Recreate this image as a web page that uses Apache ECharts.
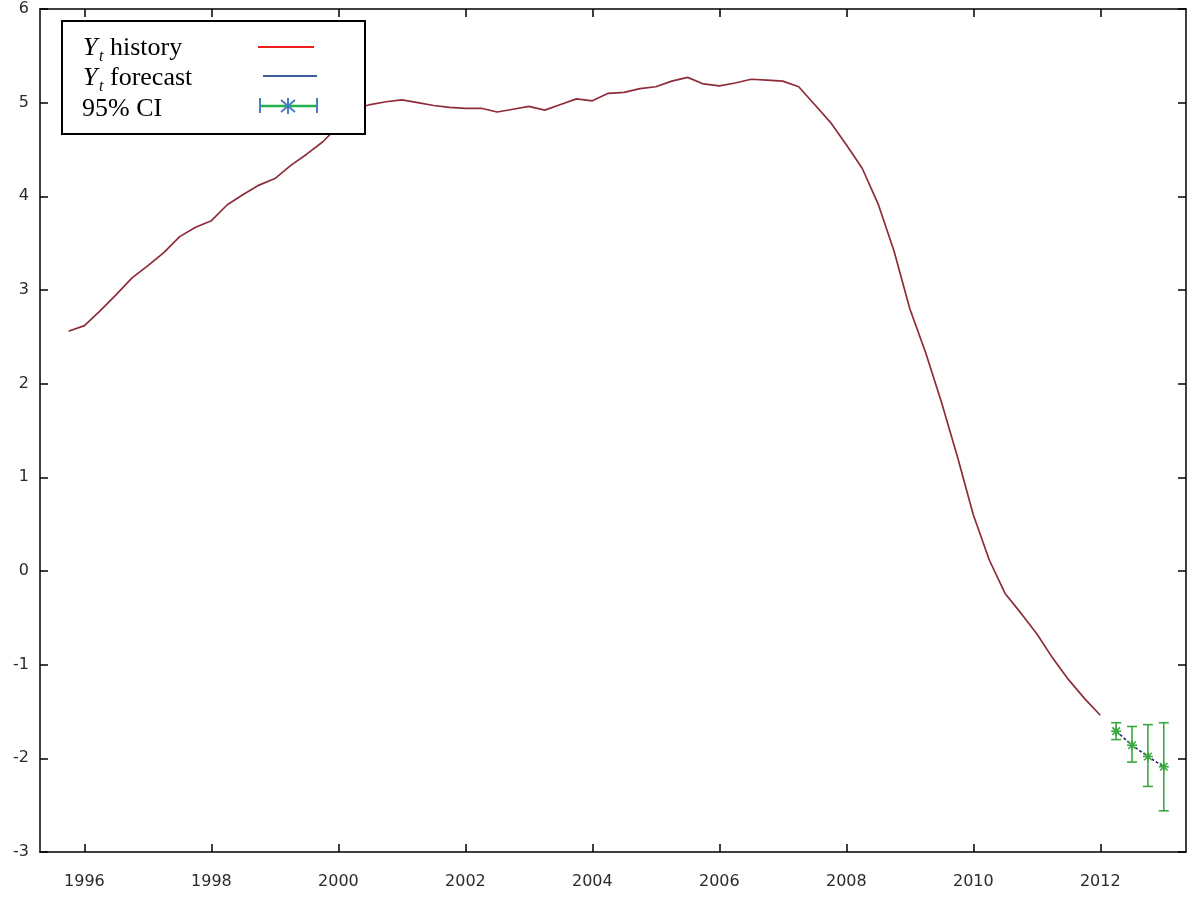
<!DOCTYPE html>
<html>
<head>
<meta charset="utf-8">
<script src="https://cdn.jsdelivr.net/npm/echarts@6/dist/echarts.min.js"></script>
<style>
  html, body { margin: 0; padding: 0; background: #ffffff; }
  #chart { width: 1188px; height: 897px; }
</style>
</head>
<body>
<div id="chart"></div>
<script>
// Y_t, quarterly, first observation 1995:4, last 2012:1
const historyStart = '1995:4';
const historyValues = [
  2.56,
  2.62, 2.78, 2.95, 3.13,
  3.26, 3.40, 3.57, 3.67,
  3.74, 3.91, 4.02, 4.12,
  4.19, 4.33, 4.45, 4.58,
  4.75, 4.93, 4.98, 5.01,
  5.03, 5.00, 4.97, 4.95,
  4.94, 4.94, 4.90, 4.93,
  4.96, 4.92, 4.98, 5.04,
  5.02, 5.10, 5.11, 5.15,
  5.17, 5.23, 5.27, 5.20,
  5.18, 5.21, 5.25, 5.24,
  5.23, 5.17, 4.98, 4.79,
  4.55, 4.30, 3.92, 3.42,
  2.80, 2.33, 1.80, 1.22,
  0.60, 0.12, -0.24, -0.45,
  -0.67, -0.93, -1.16, -1.36,
  -1.54
];

// Out-of-sample forecast with 95% interval
const forecastPeriods = ['2012:2', '2012:3', '2012:4', '2013:1'];
const forecastValues  = [-1.71, -1.86, -1.98, -2.09];
const ciLower         = [-1.80, -2.04, -2.30, -2.56];
const ciUpper         = [-1.62, -1.66, -1.64, -1.62];

// Axis ticks
const yearTicks = [1996, 1998, 2000, 2002, 2004, 2006, 2008, 2010, 2012];

// 'YYYY:Q' -> decimal year (YYYY + (Q-1)/4)
function periodToYear(p) {
  const parts = p.split(':').map(Number);
  return parts[0] + (parts[1] - 1) / 4;
}

const startParts = historyStart.split(':').map(Number);
const historyData = historyValues.map((v, i) => {
  const q0 = startParts[1] - 1 + i;
  const year = startParts[0] + Math.floor(q0 / 4);
  const q = (q0 % 4) + 1;
  return [periodToYear(year + ':' + q), v];
});
const forecastData = forecastPeriods.map((p, i) => [periodToYear(p), forecastValues[i]]);
const ciData = forecastPeriods.map((p, i) => [periodToYear(p), ciLower[i], ciUpper[i], forecastValues[i]]);

const HIST_COLOR = '#8e2c3a';
const FC_COLOR = '#1e2b70';
const CI_COLOR = '#3aa840';
const AXIS_FONT = '"DejaVu Sans", Verdana, sans-serif';
const LEGEND_FONT = '"Liberation Serif", "Times New Roman", serif';

const X_MIN = 1995.3, X_MAX = 2013.35;
const Y_MIN = -3, Y_MAX = 6;

function errorBar(params, api) {
  const x = api.value(0);
  const lo = api.coord([x, api.value(1)]);
  const hi = api.coord([x, api.value(2)]);
  const c = api.coord([x, api.value(3)]);
  const cap = 5, s = 5;
  const st = { stroke: CI_COLOR, lineWidth: 1.6 };
  return {
    type: 'group',
    children: [
      { type: 'line', shape: { x1: lo[0], y1: lo[1], x2: hi[0], y2: hi[1] }, style: st },
      { type: 'line', shape: { x1: lo[0] - cap, y1: lo[1], x2: lo[0] + cap, y2: lo[1] }, style: st },
      { type: 'line', shape: { x1: hi[0] - cap, y1: hi[1], x2: hi[0] + cap, y2: hi[1] }, style: st },
      // asterisk marker at the point forecast
      { type: 'line', shape: { x1: c[0] - s, y1: c[1], x2: c[0] + s, y2: c[1] }, style: st },
      { type: 'line', shape: { x1: c[0], y1: c[1] - s, x2: c[0], y2: c[1] + s }, style: st },
      { type: 'line', shape: { x1: c[0] - s * 0.75, y1: c[1] - s * 0.75, x2: c[0] + s * 0.75, y2: c[1] + s * 0.75 }, style: st },
      { type: 'line', shape: { x1: c[0] - s * 0.75, y1: c[1] + s * 0.75, x2: c[0] + s * 0.75, y2: c[1] - s * 0.75 }, style: st }
    ]
  };
}

// Legend box (serif, italic Y with subscript t)
const LEG = { x: 62, y: 21, w: 303, h: 113 };
const rows = [47, 77, 108];
function ytLabel(row, word) {
  return [
    { type: 'text', left: 83, top: row - 12, z: 101,
      style: { text: 'Y', font: 'italic 26px ' + LEGEND_FONT, fill: '#000' } },
    { type: 'text', left: 99, top: row + 2, z: 101,
      style: { text: 't', font: 'italic 16px ' + LEGEND_FONT, fill: '#000' } },
    { type: 'text', left: 110, top: row - 12, z: 101,
      style: { text: word, font: '26px ' + LEGEND_FONT, fill: '#000' } }
  ];
}
const legendGraphics = [
  { type: 'rect', z: 100, shape: { x: LEG.x, y: LEG.y, width: LEG.w, height: LEG.h },
    style: { fill: '#ffffff', stroke: '#000000', lineWidth: 2 } },
  ...ytLabel(rows[0], 'history'),
  ...ytLabel(rows[1], 'forecast'),
  { type: 'text', left: 82, top: rows[2] - 12, z: 101,
    style: { text: '95% CI', font: '26px ' + LEGEND_FONT, fill: '#000' } },
  { type: 'line', z: 101, shape: { x1: 258, y1: rows[0], x2: 314, y2: rows[0] },
    style: { stroke: '#ee1c1c', lineWidth: 2 } },
  { type: 'line', z: 101, shape: { x1: 263, y1: rows[1] - 1, x2: 317, y2: rows[1] - 1 },
    style: { stroke: '#3a5f9c', lineWidth: 2 } },
  { type: 'line', z: 101, shape: { x1: 260, y1: rows[2] - 2, x2: 317, y2: rows[2] - 2 },
    style: { stroke: '#22b14c', lineWidth: 2.5 } },
  { type: 'line', z: 102, shape: { x1: 260, y1: rows[2] - 10, x2: 260, y2: rows[2] + 5 },
    style: { stroke: '#4a7ec2', lineWidth: 2 } },
  { type: 'line', z: 102, shape: { x1: 317, y1: rows[2] - 10, x2: 317, y2: rows[2] + 5 },
    style: { stroke: '#4a7ec2', lineWidth: 2 } },
  { type: 'line', z: 102, shape: { x1: 288, y1: rows[2] - 10, x2: 288, y2: rows[2] + 6 },
    style: { stroke: '#4a7ec2', lineWidth: 2 } },
  { type: 'line', z: 102, shape: { x1: 281, y1: rows[2] - 8, x2: 295, y2: rows[2] + 4 },
    style: { stroke: '#4a7ec2', lineWidth: 2 } },
  { type: 'line', z: 102, shape: { x1: 281, y1: rows[2] + 4, x2: 295, y2: rows[2] - 8 },
    style: { stroke: '#4a7ec2', lineWidth: 2 } }
];

const frameLine = { show: true, onZero: false, lineStyle: { color: '#000000', width: 1.5 } };
const tickStyle = { show: true, inside: true, length: 8, lineStyle: { color: '#000000', width: 1.5 } };

const chart = echarts.init(document.getElementById('chart'), null, { renderer: 'canvas' });
chart.setOption({
  backgroundColor: '#ffffff',
  animation: false,
  grid: { left: 40, right: 2, top: 9, bottom: 45, containLabel: false },
  xAxis: [
    {
      type: 'value', position: 'bottom', min: X_MIN, max: X_MAX,
      axisLine: frameLine,
      axisTick: Object.assign({}, tickStyle, { customValues: yearTicks }),
      axisLabel: {
        customValues: yearTicks, margin: 22, color: '#2a2a2a',
        fontFamily: AXIS_FONT, fontSize: 16, formatter: v => String(Math.round(v))
      },
      splitLine: { show: false }
    },
    {
      type: 'value', position: 'top', min: X_MIN, max: X_MAX,
      axisLine: frameLine,
      axisTick: Object.assign({}, tickStyle, { customValues: yearTicks }),
      axisLabel: { show: false },
      splitLine: { show: false }
    }
  ],
  yAxis: [
    {
      type: 'value', position: 'left', min: Y_MIN, max: Y_MAX, interval: 1,
      axisLine: frameLine, axisTick: tickStyle,
      axisLabel: { margin: 11, color: '#2a2a2a', fontFamily: AXIS_FONT, fontSize: 16 },
      splitLine: { show: false }
    },
    {
      type: 'value', position: 'right', min: Y_MIN, max: Y_MAX, interval: 1,
      axisLine: frameLine, axisTick: tickStyle,
      axisLabel: { show: false },
      splitLine: { show: false }
    }
  ],
  series: [
    {
      name: 'history', type: 'line', xAxisIndex: 0, yAxisIndex: 0,
      data: historyData, showSymbol: false, smooth: false,
      lineStyle: { color: HIST_COLOR, width: 1.7 }, z: 3
    },
    {
      name: 'forecast', type: 'line', xAxisIndex: 0, yAxisIndex: 0,
      data: forecastData, showSymbol: false,
      lineStyle: { color: FC_COLOR, width: 1.6, type: [3, 2] }, z: 3
    },
    {
      name: '95% CI', type: 'custom', xAxisIndex: 0, yAxisIndex: 0,
      data: ciData, renderItem: errorBar, z: 4,
      encode: { x: 0, y: [1, 2] }
    }
  ],
  graphic: legendGraphics
});
</script>
</body>
</html>
